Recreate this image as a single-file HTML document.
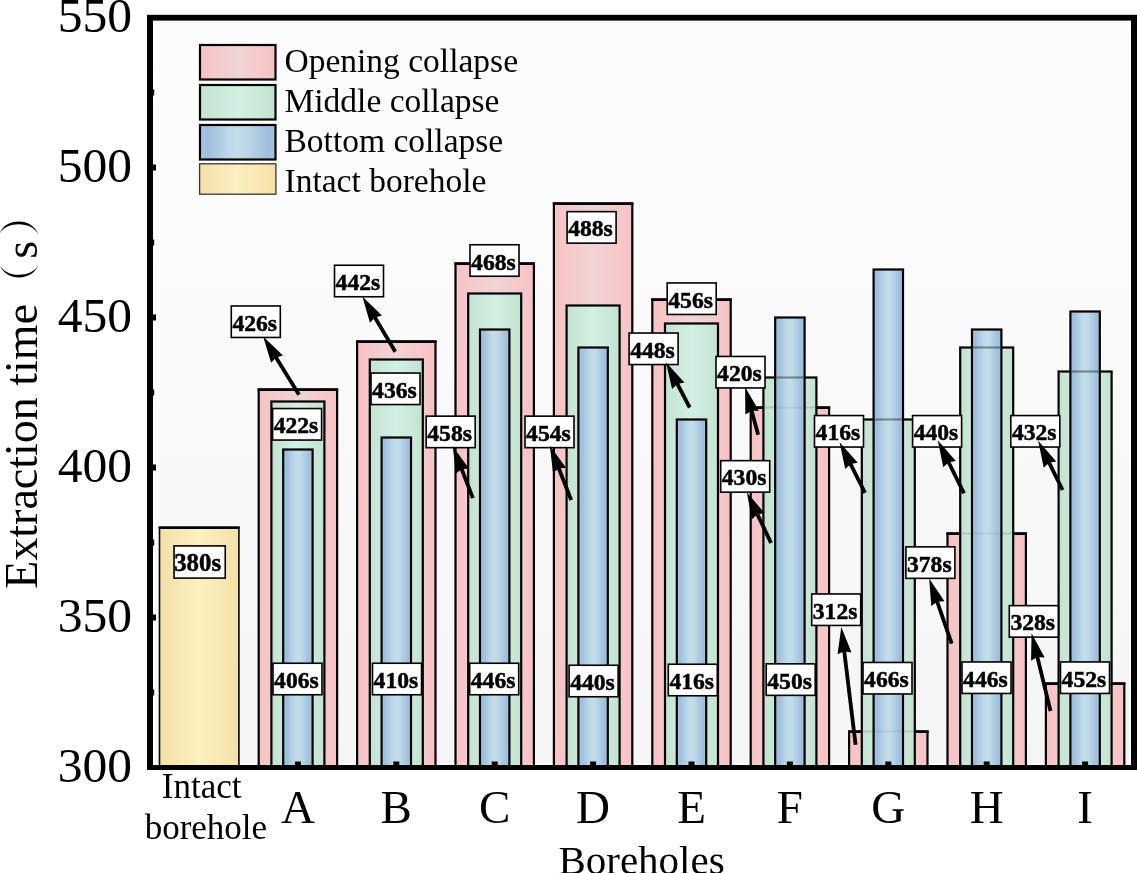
<!DOCTYPE html>
<html><head><meta charset="utf-8"><style>
html,body{margin:0;padding:0;background:#fff;}
svg{display:block;will-change:transform;}
text{font-family:"Liberation Serif",serif;}
</style></head><body>
<svg width="1137" height="873" viewBox="0 0 1137 873">
<defs>
<linearGradient id="gp" x1="0" x2="1" y1="0" y2="0">
<stop offset="0" stop-color="#f8c2c4"/><stop offset="0.5" stop-color="#f1d4d5"/><stop offset="1" stop-color="#f8c2c4"/></linearGradient>
<linearGradient id="gg" x1="0" x2="1" y1="0" y2="0">
<stop offset="0" stop-color="#c4e2d0"/><stop offset="0.5" stop-color="#d2f1e4"/><stop offset="1" stop-color="#c4e2d0"/></linearGradient>
<linearGradient id="gb" x1="0" x2="1" y1="0" y2="0">
<stop offset="0" stop-color="#a9c8e6"/><stop offset="0.1" stop-color="#9dbedd"/><stop offset="0.38" stop-color="#bdd8e7"/><stop offset="0.5" stop-color="#c3dde9"/><stop offset="0.62" stop-color="#bdd8e7"/><stop offset="0.9" stop-color="#9dbedd"/><stop offset="1" stop-color="#a6c4e0"/></linearGradient>
<linearGradient id="gy" x1="0" x2="1" y1="0" y2="0">
<stop offset="0" stop-color="#f5e0a7"/><stop offset="0.5" stop-color="#fbf0c0"/><stop offset="1" stop-color="#f5e0a7"/></linearGradient>
<linearGradient id="gbg" x1="0" x2="0" y1="0" y2="1">
<stop offset="0" stop-color="#fcfcfc"/><stop offset="0.3" stop-color="#fbfbfb"/><stop offset="1" stop-color="#f5f5f5"/></linearGradient>
</defs>
<rect x="0" y="0" width="1137" height="873" fill="#fff"/>
<rect x="155" y="22" width="974" height="741" fill="url(#gbg)"/>
<rect x="159.50" y="527.50" width="79.40" height="240.00" fill="url(#gy)" stroke="#000" stroke-width="1.6"/>
<rect x="158.70" y="526.40" width="81.00" height="2.6" fill="#000"/>
<rect x="258.70" y="389.50" width="78.40" height="378.00" fill="url(#gp)" stroke="#000" stroke-width="2.2"/>
<rect x="257.60" y="388.40" width="80.60" height="2.6" fill="#000"/>
<rect x="271.40" y="401.50" width="53.00" height="366.00" fill="url(#gg)" stroke="#000" stroke-width="2.2"/>
<rect x="283.20" y="449.50" width="29.40" height="318.00" fill="url(#gb)" stroke="#000" stroke-width="2.2"/>
<rect x="357.10" y="341.50" width="78.40" height="426.00" fill="url(#gp)" stroke="#000" stroke-width="2.2"/>
<rect x="356.00" y="340.40" width="80.60" height="2.6" fill="#000"/>
<rect x="369.80" y="359.50" width="53.00" height="408.00" fill="url(#gg)" stroke="#000" stroke-width="2.2"/>
<rect x="381.60" y="437.50" width="29.40" height="330.00" fill="url(#gb)" stroke="#000" stroke-width="2.2"/>
<rect x="455.50" y="263.50" width="78.40" height="504.00" fill="url(#gp)" stroke="#000" stroke-width="2.2"/>
<rect x="454.40" y="262.40" width="80.60" height="2.6" fill="#000"/>
<rect x="468.20" y="293.50" width="53.00" height="474.00" fill="url(#gg)" stroke="#000" stroke-width="2.2"/>
<rect x="480.00" y="329.50" width="29.40" height="438.00" fill="url(#gb)" stroke="#000" stroke-width="2.2"/>
<rect x="553.90" y="203.50" width="78.40" height="564.00" fill="url(#gp)" stroke="#000" stroke-width="2.2"/>
<rect x="552.80" y="202.40" width="80.60" height="2.6" fill="#000"/>
<rect x="566.60" y="305.50" width="53.00" height="462.00" fill="url(#gg)" stroke="#000" stroke-width="2.2"/>
<rect x="578.40" y="347.50" width="29.40" height="420.00" fill="url(#gb)" stroke="#000" stroke-width="2.2"/>
<rect x="652.30" y="299.50" width="78.40" height="468.00" fill="url(#gp)" stroke="#000" stroke-width="2.2"/>
<rect x="651.20" y="298.40" width="80.60" height="2.6" fill="#000"/>
<rect x="665.00" y="323.50" width="53.00" height="444.00" fill="url(#gg)" stroke="#000" stroke-width="2.2"/>
<rect x="676.80" y="419.50" width="29.40" height="348.00" fill="url(#gb)" stroke="#000" stroke-width="2.2"/>
<rect x="750.70" y="407.50" width="78.40" height="360.00" fill="url(#gp)" stroke="#000" stroke-width="2.2"/>
<rect x="749.60" y="406.40" width="80.60" height="2.6" fill="#000"/>
<rect x="763.40" y="377.50" width="53.00" height="390.00" fill="url(#gg)" stroke="#000" stroke-width="2.2"/>
<line x1="764.50" x2="815.30" y1="407.50" y2="407.50" stroke="#000" stroke-opacity="0.12" stroke-width="2.2"/>
<rect x="775.20" y="317.50" width="29.40" height="450.00" fill="url(#gb)" stroke="#000" stroke-width="2.2"/>
<line x1="776.30" x2="803.50" y1="407.50" y2="407.50" stroke="#000" stroke-opacity="0.06" stroke-width="2.2"/>
<line x1="776.30" x2="803.50" y1="377.50" y2="377.50" stroke="#000" stroke-opacity="0.38" stroke-width="2.2"/>
<rect x="849.10" y="731.50" width="78.40" height="36.00" fill="url(#gp)" stroke="#000" stroke-width="2.2"/>
<rect x="848.00" y="730.40" width="80.60" height="2.6" fill="#000"/>
<rect x="861.80" y="419.50" width="53.00" height="348.00" fill="url(#gg)" stroke="#000" stroke-width="2.2"/>
<line x1="862.90" x2="913.70" y1="731.50" y2="731.50" stroke="#000" stroke-opacity="0.12" stroke-width="2.2"/>
<rect x="873.60" y="269.50" width="29.40" height="498.00" fill="url(#gb)" stroke="#000" stroke-width="2.2"/>
<line x1="874.70" x2="901.90" y1="731.50" y2="731.50" stroke="#000" stroke-opacity="0.06" stroke-width="2.2"/>
<line x1="874.70" x2="901.90" y1="419.50" y2="419.50" stroke="#000" stroke-opacity="0.38" stroke-width="2.2"/>
<rect x="947.50" y="533.50" width="78.40" height="234.00" fill="url(#gp)" stroke="#000" stroke-width="2.2"/>
<rect x="946.40" y="532.40" width="80.60" height="2.6" fill="#000"/>
<rect x="960.20" y="347.50" width="53.00" height="420.00" fill="url(#gg)" stroke="#000" stroke-width="2.2"/>
<line x1="961.30" x2="1012.10" y1="533.50" y2="533.50" stroke="#000" stroke-opacity="0.12" stroke-width="2.2"/>
<rect x="972.00" y="329.50" width="29.40" height="438.00" fill="url(#gb)" stroke="#000" stroke-width="2.2"/>
<line x1="973.10" x2="1000.30" y1="533.50" y2="533.50" stroke="#000" stroke-opacity="0.06" stroke-width="2.2"/>
<line x1="973.10" x2="1000.30" y1="347.50" y2="347.50" stroke="#000" stroke-opacity="0.38" stroke-width="2.2"/>
<rect x="1045.90" y="683.50" width="78.40" height="84.00" fill="url(#gp)" stroke="#000" stroke-width="2.2"/>
<rect x="1044.80" y="682.40" width="80.60" height="2.6" fill="#000"/>
<rect x="1058.60" y="371.50" width="53.00" height="396.00" fill="url(#gg)" stroke="#000" stroke-width="2.2"/>
<line x1="1059.70" x2="1110.50" y1="683.50" y2="683.50" stroke="#000" stroke-opacity="0.12" stroke-width="2.2"/>
<rect x="1070.40" y="311.50" width="29.40" height="456.00" fill="url(#gb)" stroke="#000" stroke-width="2.2"/>
<line x1="1071.50" x2="1098.70" y1="683.50" y2="683.50" stroke="#000" stroke-opacity="0.06" stroke-width="2.2"/>
<line x1="1071.50" x2="1098.70" y1="371.50" y2="371.50" stroke="#000" stroke-opacity="0.38" stroke-width="2.2"/>
<rect x="153" y="614.50" width="3" height="6" fill="#000"/>
<rect x="153" y="464.50" width="3" height="6" fill="#000"/>
<rect x="153" y="314.50" width="3" height="6" fill="#000"/>
<rect x="153" y="164.50" width="3" height="6" fill="#000"/>
<rect x="153" y="689.50" width="1.2" height="6" fill="#000"/>
<rect x="153" y="539.50" width="1.2" height="6" fill="#000"/>
<rect x="153" y="389.50" width="1.2" height="6" fill="#000"/>
<rect x="153" y="239.50" width="1.2" height="6" fill="#000"/>
<rect x="153" y="89.50" width="1.2" height="6" fill="#000"/>
<rect x="294.90" y="761.5" width="6" height="3.5" fill="#000"/>
<rect x="393.30" y="761.5" width="6" height="3.5" fill="#000"/>
<rect x="491.70" y="761.5" width="6" height="3.5" fill="#000"/>
<rect x="590.10" y="761.5" width="6" height="3.5" fill="#000"/>
<rect x="688.50" y="761.5" width="6" height="3.5" fill="#000"/>
<rect x="786.90" y="761.5" width="6" height="3.5" fill="#000"/>
<rect x="885.30" y="761.5" width="6" height="3.5" fill="#000"/>
<rect x="983.70" y="761.5" width="6" height="3.5" fill="#000"/>
<rect x="1082.10" y="761.5" width="6" height="3.5" fill="#000"/>
<rect x="147" y="15" width="6" height="755" fill="#000"/>
<rect x="1131" y="15" width="6" height="755" fill="#000"/>
<rect x="147" y="14.8" width="990" height="5.8" fill="#000"/>
<rect x="147" y="765" width="990" height="5" fill="#000"/>
<text x="132" y="782.10" font-size="47.5" text-anchor="end" textLength="74.3" lengthAdjust="spacingAndGlyphs">300</text>
<text x="132" y="632.10" font-size="47.5" text-anchor="end" textLength="74.3" lengthAdjust="spacingAndGlyphs">350</text>
<text x="132" y="482.10" font-size="47.5" text-anchor="end" textLength="74.3" lengthAdjust="spacingAndGlyphs">400</text>
<text x="132" y="332.10" font-size="47.5" text-anchor="end" textLength="74.3" lengthAdjust="spacingAndGlyphs">450</text>
<text x="132" y="182.10" font-size="47.5" text-anchor="end" textLength="74.3" lengthAdjust="spacingAndGlyphs">500</text>
<text x="132" y="32.10" font-size="47.5" text-anchor="end" textLength="74.3" lengthAdjust="spacingAndGlyphs">550</text>
<text x="297.90" y="822.7" font-size="47" text-anchor="middle">A</text>
<text x="396.30" y="822.7" font-size="47" text-anchor="middle">B</text>
<text x="494.70" y="822.7" font-size="47" text-anchor="middle">C</text>
<text x="593.10" y="822.7" font-size="47" text-anchor="middle">D</text>
<text x="691.50" y="822.7" font-size="47" text-anchor="middle">E</text>
<text x="789.90" y="822.7" font-size="47" text-anchor="middle">F</text>
<text x="888.30" y="822.7" font-size="47" text-anchor="middle">G</text>
<text x="986.70" y="822.7" font-size="47" text-anchor="middle">H</text>
<text x="1085.10" y="822.7" font-size="47" text-anchor="middle">I</text>
<text x="201.6" y="798" font-size="35" text-anchor="middle">Intact</text>
<text x="205.9" y="839.3" font-size="35" text-anchor="middle">borehole</text>
<text x="641.5" y="873.5" font-size="41" text-anchor="middle">Boreholes</text>
<text transform="translate(36.6,588.8) rotate(-90)" font-size="46">Extraction time</text>
<text transform="translate(37,258.8) rotate(-90)" font-size="46">s</text>
<path d="M-0.5 234 C5 217.3 33 217.3 38.3 234.8 C33 220.9 5 220.9 -0.5 234 Z" fill="#000"/>
<path d="M0 265 C5 281.6 33 281.6 38.3 264.8 C33 278.1 5 278.1 0 265 Z" fill="#000"/>
<rect x="200" y="45" width="75.5" height="34.5" fill="url(#gp)" stroke="#000" stroke-width="2.2"/>
<text x="284.5" y="72" font-size="33.5">Opening collapse</text>
<rect x="200" y="85" width="75.5" height="34.5" fill="url(#gg)" stroke="#000" stroke-width="2.2"/>
<text x="284.5" y="112" font-size="33.5">Middle collapse</text>
<rect x="200" y="125" width="75.5" height="34.5" fill="url(#gb)" stroke="#000" stroke-width="2.2"/>
<text x="284.5" y="152" font-size="33.5">Bottom collapse</text>
<rect x="199.6" y="163.8" width="76.3" height="30.4" fill="url(#gy)" stroke="#3a3632" stroke-width="1.3"/>
<text x="284.5" y="192" font-size="33.5">Intact borehole</text>
<rect x="174.05" y="545.90" width="51.2" height="32.2" fill="#fff" stroke="#000" stroke-width="1.6"/>
<text x="197.65" y="570.60" font-size="24.8" font-weight="bold" text-anchor="middle" stroke="#000" stroke-width="0.5">380s</text>
<rect x="231.30" y="305.95" width="49" height="31.5" fill="#fff" stroke="#000" stroke-width="1.6"/>
<text x="254.70" y="330.70" font-size="23.9" font-weight="bold" text-anchor="middle" stroke="#000" stroke-width="0.5" textLength="44.6" lengthAdjust="spacingAndGlyphs">426s</text>
<rect x="334.50" y="265.25" width="49" height="31.5" fill="#fff" stroke="#000" stroke-width="1.6"/>
<text x="357.90" y="290.00" font-size="23.9" font-weight="bold" text-anchor="middle" stroke="#000" stroke-width="0.5" textLength="44.6" lengthAdjust="spacingAndGlyphs">442s</text>
<rect x="272.60" y="408.55" width="49" height="31.5" fill="#fff" stroke="#000" stroke-width="1.6"/>
<text x="296.00" y="433.30" font-size="23.9" font-weight="bold" text-anchor="middle" stroke="#000" stroke-width="0.5" textLength="44.6" lengthAdjust="spacingAndGlyphs">422s</text>
<rect x="371.00" y="373.05" width="49" height="31.5" fill="#fff" stroke="#000" stroke-width="1.6"/>
<text x="394.40" y="397.80" font-size="23.9" font-weight="bold" text-anchor="middle" stroke="#000" stroke-width="0.5" textLength="44.6" lengthAdjust="spacingAndGlyphs">436s</text>
<rect x="470.00" y="244.75" width="49" height="31.5" fill="#fff" stroke="#000" stroke-width="1.6"/>
<text x="493.40" y="269.50" font-size="23.9" font-weight="bold" text-anchor="middle" stroke="#000" stroke-width="0.5" textLength="44.6" lengthAdjust="spacingAndGlyphs">468s</text>
<rect x="567.10" y="211.65" width="49" height="31.5" fill="#fff" stroke="#000" stroke-width="1.6"/>
<text x="590.50" y="236.40" font-size="23.9" font-weight="bold" text-anchor="middle" stroke="#000" stroke-width="0.5" textLength="44.6" lengthAdjust="spacingAndGlyphs">488s</text>
<rect x="426.20" y="416.15" width="49" height="31.5" fill="#fff" stroke="#000" stroke-width="1.6"/>
<text x="449.60" y="440.90" font-size="23.9" font-weight="bold" text-anchor="middle" stroke="#000" stroke-width="0.5" textLength="44.6" lengthAdjust="spacingAndGlyphs">458s</text>
<rect x="525.00" y="416.15" width="49" height="31.5" fill="#fff" stroke="#000" stroke-width="1.6"/>
<text x="548.40" y="440.90" font-size="23.9" font-weight="bold" text-anchor="middle" stroke="#000" stroke-width="0.5" textLength="44.6" lengthAdjust="spacingAndGlyphs">454s</text>
<rect x="667.20" y="282.95" width="49" height="31.5" fill="#fff" stroke="#000" stroke-width="1.6"/>
<text x="690.60" y="307.70" font-size="23.9" font-weight="bold" text-anchor="middle" stroke="#000" stroke-width="0.5" textLength="44.6" lengthAdjust="spacingAndGlyphs">456s</text>
<rect x="629.10" y="333.05" width="49" height="31.5" fill="#fff" stroke="#000" stroke-width="1.6"/>
<text x="652.50" y="357.80" font-size="23.9" font-weight="bold" text-anchor="middle" stroke="#000" stroke-width="0.5" textLength="44.6" lengthAdjust="spacingAndGlyphs">448s</text>
<rect x="716.00" y="356.45" width="49" height="31.5" fill="#fff" stroke="#000" stroke-width="1.6"/>
<text x="739.40" y="381.20" font-size="23.9" font-weight="bold" text-anchor="middle" stroke="#000" stroke-width="0.5" textLength="44.6" lengthAdjust="spacingAndGlyphs">420s</text>
<rect x="720.70" y="460.65" width="49" height="31.5" fill="#fff" stroke="#000" stroke-width="1.6"/>
<text x="744.10" y="485.40" font-size="23.9" font-weight="bold" text-anchor="middle" stroke="#000" stroke-width="0.5" textLength="44.6" lengthAdjust="spacingAndGlyphs">430s</text>
<rect x="814.50" y="415.55" width="49" height="31.5" fill="#fff" stroke="#000" stroke-width="1.6"/>
<text x="837.90" y="440.30" font-size="23.9" font-weight="bold" text-anchor="middle" stroke="#000" stroke-width="0.5" textLength="44.6" lengthAdjust="spacingAndGlyphs">416s</text>
<rect x="912.60" y="415.55" width="49" height="31.5" fill="#fff" stroke="#000" stroke-width="1.6"/>
<text x="936.00" y="440.30" font-size="23.9" font-weight="bold" text-anchor="middle" stroke="#000" stroke-width="0.5" textLength="44.6" lengthAdjust="spacingAndGlyphs">440s</text>
<rect x="1010.80" y="415.55" width="49" height="31.5" fill="#fff" stroke="#000" stroke-width="1.6"/>
<text x="1034.20" y="440.30" font-size="23.9" font-weight="bold" text-anchor="middle" stroke="#000" stroke-width="0.5" textLength="44.6" lengthAdjust="spacingAndGlyphs">432s</text>
<rect x="811.70" y="593.95" width="49" height="31.5" fill="#fff" stroke="#000" stroke-width="1.6"/>
<text x="835.10" y="618.70" font-size="23.9" font-weight="bold" text-anchor="middle" stroke="#000" stroke-width="0.5" textLength="44.6" lengthAdjust="spacingAndGlyphs">312s</text>
<rect x="905.90" y="546.85" width="49" height="31.5" fill="#fff" stroke="#000" stroke-width="1.6"/>
<text x="929.30" y="571.60" font-size="23.9" font-weight="bold" text-anchor="middle" stroke="#000" stroke-width="0.5" textLength="44.6" lengthAdjust="spacingAndGlyphs">378s</text>
<rect x="1009.30" y="605.65" width="49" height="31.5" fill="#fff" stroke="#000" stroke-width="1.6"/>
<text x="1032.70" y="630.40" font-size="23.9" font-weight="bold" text-anchor="middle" stroke="#000" stroke-width="0.5" textLength="44.6" lengthAdjust="spacingAndGlyphs">328s</text>
<rect x="273.00" y="663.25" width="49" height="31.5" fill="#fff" stroke="#000" stroke-width="1.6"/>
<text x="296.40" y="688.00" font-size="23.9" font-weight="bold" text-anchor="middle" stroke="#000" stroke-width="0.5" textLength="44.6" lengthAdjust="spacingAndGlyphs">406s</text>
<rect x="372.50" y="663.25" width="49" height="31.5" fill="#fff" stroke="#000" stroke-width="1.6"/>
<text x="395.90" y="688.00" font-size="23.9" font-weight="bold" text-anchor="middle" stroke="#000" stroke-width="0.5" textLength="44.6" lengthAdjust="spacingAndGlyphs">410s</text>
<rect x="469.70" y="663.25" width="49" height="31.5" fill="#fff" stroke="#000" stroke-width="1.6"/>
<text x="493.10" y="688.00" font-size="23.9" font-weight="bold" text-anchor="middle" stroke="#000" stroke-width="0.5" textLength="44.6" lengthAdjust="spacingAndGlyphs">446s</text>
<rect x="569.10" y="665.25" width="49" height="31.5" fill="#fff" stroke="#000" stroke-width="1.6"/>
<text x="592.50" y="690.00" font-size="23.9" font-weight="bold" text-anchor="middle" stroke="#000" stroke-width="0.5" textLength="44.6" lengthAdjust="spacingAndGlyphs">440s</text>
<rect x="668.30" y="664.25" width="49" height="31.5" fill="#fff" stroke="#000" stroke-width="1.6"/>
<text x="691.70" y="689.00" font-size="23.9" font-weight="bold" text-anchor="middle" stroke="#000" stroke-width="0.5" textLength="44.6" lengthAdjust="spacingAndGlyphs">416s</text>
<rect x="766.20" y="663.85" width="49" height="31.5" fill="#fff" stroke="#000" stroke-width="1.6"/>
<text x="789.60" y="688.60" font-size="23.9" font-weight="bold" text-anchor="middle" stroke="#000" stroke-width="0.5" textLength="44.6" lengthAdjust="spacingAndGlyphs">450s</text>
<rect x="863.00" y="662.45" width="49" height="31.5" fill="#fff" stroke="#000" stroke-width="1.6"/>
<text x="886.40" y="687.20" font-size="23.9" font-weight="bold" text-anchor="middle" stroke="#000" stroke-width="0.5" textLength="44.6" lengthAdjust="spacingAndGlyphs">466s</text>
<rect x="962.00" y="661.95" width="49" height="31.5" fill="#fff" stroke="#000" stroke-width="1.6"/>
<text x="985.40" y="686.70" font-size="23.9" font-weight="bold" text-anchor="middle" stroke="#000" stroke-width="0.5" textLength="44.6" lengthAdjust="spacingAndGlyphs">446s</text>
<rect x="1060.50" y="661.95" width="49" height="31.5" fill="#fff" stroke="#000" stroke-width="1.6"/>
<text x="1083.90" y="686.70" font-size="23.9" font-weight="bold" text-anchor="middle" stroke="#000" stroke-width="0.5" textLength="44.6" lengthAdjust="spacingAndGlyphs">452s</text>
<line x1="299" y1="394.7" x2="274.96" y2="355.69" stroke="#000" stroke-width="3.8"/>
<path d="M263.16 336.54 L283.02 355.43 L276.01 357.40 L271.10 362.77 Z" fill="#000"/>
<line x1="395.3" y1="351.7" x2="373.89" y2="315.76" stroke="#000" stroke-width="3.8"/>
<path d="M362.38 296.43 L381.96 315.61 L374.92 317.48 L369.93 322.78 Z" fill="#000"/>
<line x1="472.9" y1="498.1" x2="460.94" y2="467.28" stroke="#000" stroke-width="3.8"/>
<path d="M452.80 446.30 L468.91 468.47 L461.66 469.14 L455.86 473.54 Z" fill="#000"/>
<line x1="571.2" y1="500" x2="558.05" y2="466.55" stroke="#000" stroke-width="3.8"/>
<path d="M549.81 445.61 L566.03 467.71 L558.78 468.41 L553.00 472.83 Z" fill="#000"/>
<line x1="689.7" y1="407.5" x2="676.42" y2="382.20" stroke="#000" stroke-width="3.8"/>
<path d="M665.96 362.28 L684.47 382.49 L677.35 383.97 L672.08 389.00 Z" fill="#000"/>
<line x1="758.2" y1="434.7" x2="751.05" y2="408.75" stroke="#000" stroke-width="3.8"/>
<path d="M745.08 387.06 L758.86 410.75 L751.58 410.68 L745.36 414.46 Z" fill="#000"/>
<line x1="771.1" y1="543" x2="756.51" y2="512.50" stroke="#000" stroke-width="3.8"/>
<path d="M746.80 492.20 L764.55 513.09 L757.37 514.30 L751.92 519.13 Z" fill="#000"/>
<line x1="865" y1="492.8" x2="849.69" y2="462.31" stroke="#000" stroke-width="3.8"/>
<path d="M839.60 442.20 L857.74 462.74 L850.59 464.10 L845.23 469.02 Z" fill="#000"/>
<line x1="964" y1="493.3" x2="947.77" y2="460.53" stroke="#000" stroke-width="3.8"/>
<path d="M937.79 440.37 L955.82 461.01 L948.66 462.32 L943.28 467.22 Z" fill="#000"/>
<line x1="1062.6" y1="490" x2="1048.20" y2="460.96" stroke="#000" stroke-width="3.8"/>
<path d="M1038.20 440.80 L1056.25 461.43 L1049.09 462.75 L1043.70 467.65 Z" fill="#000"/>
<line x1="855.6" y1="744.8" x2="844.01" y2="649.34" stroke="#000" stroke-width="3.8"/>
<path d="M841.30 627.00 L851.44 652.46 L844.25 651.32 L837.54 654.15 Z" fill="#000"/>
<line x1="951.7" y1="643.7" x2="936.55" y2="599.87" stroke="#000" stroke-width="3.8"/>
<path d="M929.20 578.60 L944.47 601.36 L937.20 601.76 L931.24 605.93 Z" fill="#000"/>
<line x1="1050.5" y1="711" x2="1036.92" y2="655.16" stroke="#000" stroke-width="3.8"/>
<path d="M1031.60 633.30 L1044.66 657.39 L1037.39 657.11 L1031.06 660.70 Z" fill="#000"/>
</svg></body></html>
